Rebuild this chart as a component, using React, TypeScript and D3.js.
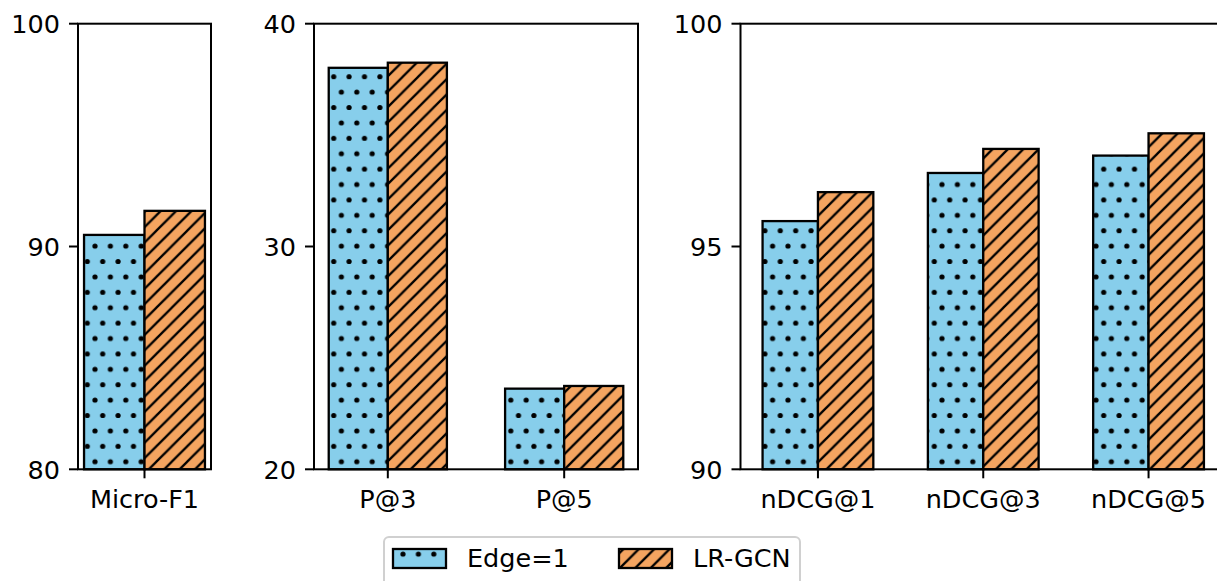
import React from "react";
import * as d3 from "d3";

// Metric groups per panel
const f1Categories = ["Micro-F1"];
const f1Edge = [90.52];
const f1LrGcn = [91.6];
const f1Ticks = [80, 90, 100];

const precCategories = ["P@3", "P@5"];
const precEdge = [38.02, 23.62];
const precLrGcn = [38.25, 23.74];
const precTicks = [20, 30, 40];

const ndcgCategories = ["nDCG@1", "nDCG@3", "nDCG@5"];
const ndcgEdge = [95.57, 96.65, 97.04];
const ndcgLrGcn = [96.22, 97.19, 97.54];
const ndcgTicks = [90, 95, 100];

const seriesNames = ["Edge=1", "LR-GCN"];

const W = 1217;
const H = 581;
const TOP = 23.7;
const BOTTOM = 469.3;
const BAR_W = 0.335;
const FONT = "'DejaVu Sans', sans-serif";
const FS = 25.5;
const BLUE = "#87CEEB";
const ORANGE = "#F4A460";
const HATCH = 15.4;
const DOT_R = 2.6;

type PanelProps = {
  x0: number;
  x1: number;
  categories: string[];
  edge: number[];
  lr: number[];
  ticks: number[];
};

function Panel({ x0, x1, categories, edge, lr, ticks }: PanelProps) {
  const n = categories.length;
  const span = n - 1 + 2 * BAR_W;
  const m = 0.05 * span;
  const x = d3.scaleLinear().domain([-BAR_W - m, n - 1 + BAR_W + m]).range([x0, x1]);
  const y = d3
    .scaleLinear()
    .domain([ticks[0], ticks[ticks.length - 1]])
    .range([BOTTOM, TOP]);
  const base = ticks[0];
  return (
    <g>
      {categories.map((c, i) => (
        <g key={c}>
          <rect x={x(i - BAR_W)} y={y(edge[i])} width={x(i) - x(i - BAR_W)} height={y(base) - y(edge[i])} fill={BLUE} />
          <rect x={x(i - BAR_W)} y={y(edge[i])} width={x(i) - x(i - BAR_W)} height={y(base) - y(edge[i])} fill="url(#dots)" stroke="#000" strokeWidth={2.3} />
          <rect x={x(i)} y={y(lr[i])} width={x(i + BAR_W) - x(i)} height={y(base) - y(lr[i])} fill={ORANGE} />
          <rect x={x(i)} y={y(lr[i])} width={x(i + BAR_W) - x(i)} height={y(base) - y(lr[i])} fill="url(#diag)" stroke="#000" strokeWidth={2.3} />
        </g>
      ))}
      {/* frame */}
      <rect x={x0} y={TOP} width={x1 - x0} height={BOTTOM - TOP} fill="none" stroke="#000" strokeWidth={2} />
      {ticks.map((t) => (
        <g key={t}>
          <line x1={x0 - 9} x2={x0} y1={y(t)} y2={y(t)} stroke="#000" strokeWidth={2} />
          <text x={x0 - 18} y={y(t) + FS * 0.3645} textAnchor="end" fontFamily={FONT} fontSize={FS} fill="#000">
            {t}
          </text>
        </g>
      ))}
      {categories.map((c, i) => (
        <g key={c + "-tick"}>
          <line x1={x(i)} x2={x(i)} y1={BOTTOM} y2={BOTTOM + 9} stroke="#000" strokeWidth={2} />
          <text x={x(i)} y={508} textAnchor="middle" fontFamily={FONT} fontSize={FS} fill="#000">
            {c}
          </text>
        </g>
      ))}
    </g>
  );
}

export default function App() {
  const h2 = HATCH / 2;
  return (
    <div style={{ position: "fixed", left: 0, top: 0 }}>
      <svg width={W} height={H} viewBox={`0 0 ${W} ${H}`} style={{ display: "block", background: "#fff" }}>
        <defs>
          <pattern id="dots" patternUnits="userSpaceOnUse" x={95} y={461.7} width={HATCH} height={HATCH * 2}>
            <circle cx={0} cy={0} r={DOT_R} fill="#000" />
            <circle cx={HATCH} cy={0} r={DOT_R} fill="#000" />
            <circle cx={0} cy={HATCH * 2} r={DOT_R} fill="#000" />
            <circle cx={HATCH} cy={HATCH * 2} r={DOT_R} fill="#000" />
            <circle cx={h2} cy={HATCH} r={DOT_R} fill="#000" />
          </pattern>
          <pattern id="diag" patternUnits="userSpaceOnUse" x={2.1} y={0} width={HATCH} height={HATCH}>
            <path
              d={`M0,${HATCH} L${HATCH},0 M${-h2},${h2} L${h2},${-h2} M${h2},${HATCH + h2} L${HATCH + h2},${h2}`}
              stroke="#000"
              strokeWidth={2.3}
            />
          </pattern>
        </defs>
        <rect x={0} y={0} width={W} height={H} fill="#fff" />
        <Panel x0={78} x1={211} categories={f1Categories} edge={f1Edge} lr={f1LrGcn} ticks={f1Ticks} />
        <Panel x0={314} x1={638} categories={precCategories} edge={precEdge} lr={precLrGcn} ticks={precTicks} />
        <Panel x0={740.5} x1={1226} categories={ndcgCategories} edge={ndcgEdge} lr={ndcgLrGcn} ticks={ndcgTicks} />

        {/* legend */}
        <g>
          <rect x={384} y={537} width={416} height={60} rx={5} fill="#fff" fillOpacity={0.8} stroke="#d0d0d0" strokeWidth={2} />
          <rect x={393} y={549} width={53} height={19} fill={BLUE} />
          <rect x={393} y={549} width={53} height={19} fill="url(#dots)" stroke="#000" strokeWidth={2.3} />
          <text x={467} y={567} fontFamily={FONT} fontSize={FS} fill="#000">
            {seriesNames[0]}
          </text>
          <rect x={619} y={549} width={53} height={19} fill={ORANGE} />
          <rect x={619} y={549} width={53} height={19} fill="url(#diag)" stroke="#000" strokeWidth={2.3} />
          <text x={693} y={567} fontFamily={FONT} fontSize={FS} fill="#000">
            {seriesNames[1]}
          </text>
        </g>
      </svg>
    </div>
  );
}
